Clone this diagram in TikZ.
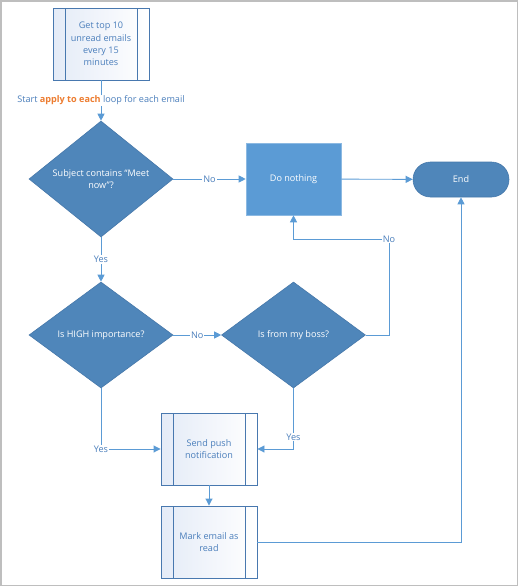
\documentclass[tikz,border=0pt]{standalone}
\usepackage{fontspec}
\setmainfont{Open Sans}
\usetikzlibrary{shapes.geometric,arrows.meta}
\definecolor{flowline}{RGB}{91,155,213}
\definecolor{labelblue}{RGB}{74,126,187}
\definecolor{boxedge}{RGB}{72,120,175}
\definecolor{boxshade}{RGB}{228,235,247}
\definecolor{diafill}{RGB}{79,134,186}
\definecolor{diaedge}{RGB}{70,120,170}
\definecolor{actfill}{RGB}{91,155,213}
\definecolor{loopcolor}{RGB}{237,125,49}
\definecolor{framegray}{RGB}{190,190,190}
\begin{document}
\begin{tikzpicture}[
 x=1pt, y=-1pt,
 >={Triangle[length=7pt,width=7pt]},
 align=center,
 font=\fontsize{9.1}{12.4}\selectfont,
 link/.style={draw=flowline,line width=0.9pt,->},
 tag/.style={fill=white,inner sep=1pt,text=labelblue},
 box/.style={draw=boxedge,line width=0.9pt,rectangle,minimum width=96pt,minimum height=72pt,inner sep=0pt,text=labelblue,left color=boxshade,right color=white,
  path picture={
   \draw[boxedge,line width=0.9pt] ([xshift=12pt]path picture bounding box.north west) -- ([xshift=12pt]path picture bounding box.south west);
   \draw[boxedge,line width=0.9pt] ([xshift=-12pt]path picture bounding box.north east) -- ([xshift=-12pt]path picture bounding box.south east);
  }},
 decision/.style={diamond,draw=diaedge,fill=diafill,line width=0.6pt,text=white,minimum width=144pt,minimum height=106pt,inner sep=0pt},
 action/.style={draw=actfill!70!white,fill=actfill,line width=0.6pt,text=white,rectangle,minimum width=95pt,minimum height=72pt},
 terminal/.style={draw=diaedge,fill=diafill,line width=0.6pt,text=white,rectangle,rounded corners=17.5pt,minimum width=96pt,minimum height=35pt}
]
\useasboundingbox (0,0) rectangle (519,587);
\draw [framegray,line width=1.5pt] (1,1) rectangle (517.5,585.5);
\node (fetch-box) [box] at (101,44) {Get top 10\\unread emails\\every 15\\minutes};
\node (subject-dia) [decision] at (101,179) {Subject contains “Meet\\now”?};
\node (nothing-box) [action] at (293.5,179) {Do nothing};
\node (end-term) [terminal] at (461,179.5) {End};
\node (high-dia) [decision] at (101,335) {Is HIGH importance?};
\node (boss-dia) [decision] at (293.5,335) {Is from my boss?};
\node (push-box) [box] at (209,449) {Send push\\notification};
\node (read-box) [box] at (209,542) {Mark email as\\read};
\coordinate (boss-turn) at (389,239);
\draw[link] (fetch-box) -- node [tag] {Start \textbf{\color{loopcolor}apply to each} loop for each email} (subject-dia);
\draw[link] (subject-dia) -- node [tag] {No} (nothing-box);
\draw[link] (nothing-box) -- (end-term);
\draw[link] (subject-dia) -- node [tag] {Yes} (high-dia);
\draw[link] (high-dia) -- node [tag] {No} (boss-dia);
\draw[link] (boss-dia.east) -| (boss-turn) -| (nothing-box);
\node (boss-no) [tag] at (boss-turn) {No};
\draw[link] (high-dia) |- node [tag] {Yes} (push-box);
\draw[link] (boss-dia) |- node [tag,pos=0.4] {Yes} (push-box);
\draw[link] (push-box) -- (read-box);
\draw[link] (read-box) -| (end-term);
\end{tikzpicture}
\end{document}
